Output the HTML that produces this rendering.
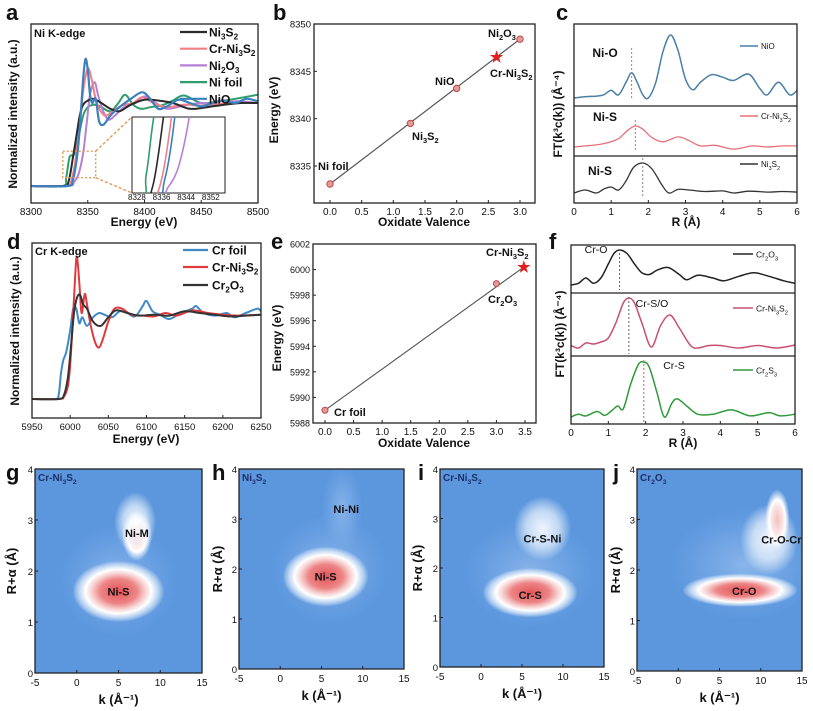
<!DOCTYPE html>
<html><head><meta charset="utf-8"><style>
html,body{margin:0;padding:0;background:#fff;}
svg{display:block;font-family:"Liberation Sans",Arial,sans-serif;}
</style></head><body>
<svg id="fig" width="813" height="711" viewBox="0 0 813 711" xmlns="http://www.w3.org/2000/svg">
<defs id="defs"></defs>
</svg>
<script>
// ===== Panel a data =====
const aE_ni3s2=[8300,8328,8333,8337,8340,8343,8346,8350,8355,8362,8370,8378,8388,8400,8412,8425,8440,8455,8470,8485,8500];
const aI_ni3s2=[0,0,0.05,0.35,0.6,0.85,0.98,1.03,1.05,1.0,0.93,0.9,0.98,1.04,1.03,1.0,0.93,0.95,0.98,1.0,1.0];
const aE_crni=[8300,8330,8335,8339,8343,8346,8349,8351,8354,8358,8365,8372,8380,8390,8398,8408,8420,8435,8450,8465,8480,8500];
const aI_crni=[0,0,0.04,0.3,0.75,1.15,1.38,1.41,1.25,1.0,0.85,0.9,0.97,1.0,1.07,1.0,0.95,0.98,0.97,0.99,1.0,1.0];
const aE_ni2o3=[8300,8333,8338,8342,8346,8349,8352,8356,8359,8363,8368,8374,8382,8392,8400,8410,8420,8435,8450,8465,8480,8500];
const aI_ni2o3=[0,0,0.05,0.15,0.4,0.75,1.1,1.25,1.1,0.92,0.8,0.85,0.95,1.0,1.08,1.0,0.93,0.97,1.0,0.98,1.02,1.0];
const aE_nifoil=[8300,8328,8331,8334,8338,8342,8346,8350,8356,8362,8370,8377,8383,8390,8397,8405,8415,8425,8435,8450,8465,8480,8500];
const aI_nifoil=[0,0,0.1,0.35,0.38,0.6,0.85,0.95,0.98,0.95,0.9,1.0,1.1,0.98,0.93,0.95,0.97,1.03,1.09,1.0,1.02,1.05,1.1];
const aE_nio=[8300,8332,8337,8341,8344,8346,8348,8350,8352,8354,8357,8360,8364,8370,8378,8388,8398,8405,8412,8420,8430,8440,8450,8460,8470,8480,8490,8500];
const aI_nio=[0,0,0.08,0.4,0.9,1.3,1.53,1.4,1.1,1.0,1.05,0.78,0.74,0.85,0.95,1.05,1.13,1.05,0.93,0.96,1.04,1.0,0.96,1.0,1.03,1.0,1.05,1.02];
const aTicks=[8300,8350,8400,8450,8500];
const aInsetTicks=[8328,8336,8344,8352];
// ===== Panel b data =====
const bVal=[0,1.27,2.0,3.0];
const bEn=[8333.1,8339.5,8343.2,8348.4];
const bNames=["Ni foil","Ni_3S_2","NiO","Ni_2O_3"];
const bStarVal=[2.63];
const bStarEn=[8346.5];
const bXTicks=[0,0.5,1,1.5,2,2.5,3];
const bYTicks=[8335,8340,8345,8350];
// ===== Panel c data =====
const cR_nio=[0,0.3,0.6,0.8,1.0,1.2,1.4,1.55,1.7,1.85,2.0,2.2,2.4,2.6,2.8,3.0,3.2,3.4,3.7,4.0,4.3,4.7,5.0,5.2,5.5,5.8,6.0];
const cM_nio=[0,0.02,0.03,0.05,0.12,0.05,0.25,0.4,0.25,0.05,0,0.25,0.75,1.0,0.75,0.3,0.13,0.25,0.37,0.33,0.28,0.38,0.15,0.05,0.25,0.05,0.12];
const cR_crni=[0,0.3,0.6,0.9,1.2,1.45,1.65,1.85,2.1,2.4,2.8,3.1,3.4,3.8,4.3,4.8,5.2,5.6,6.0];
const cM_crni=[0,0.05,0.1,0.2,0.4,0.8,1.0,0.85,0.45,0.25,0.48,0.3,0.05,0.08,-0.1,0.05,0.0,0.05,0.05];
const cR_ni3s2=[0,0.3,0.6,0.8,1.0,1.2,1.4,1.6,1.85,2.1,2.35,2.55,2.8,3.1,3.5,4.0,4.3,4.7,5.2,5.6,6.0];
const cM_ni3s2=[0,0.1,0,0.13,0.2,0.1,0.4,0.85,1.0,0.8,0.3,0,0.12,0.1,0.05,0.07,0.0,0.06,0.03,0.05,0.03];
const rTicks=[0,1,2,3,4,5,6];
// ===== Panel d data =====
const dE_crfoil=[5950,5980,5985,5988,5991,5995,6000,6004,6008,6012,6016,6022,6030,6038,6045,6055,6065,6075,6085,6095,6100,6108,6118,6130,6145,6160,6165,6175,6190,6205,6215,6230,6245,6250];
const dI_crfoil=[0,0,0.05,0.3,0.45,0.55,0.8,1.05,1.05,0.88,0.95,0.85,0.95,1.0,0.98,0.95,1.02,1.0,0.96,1.08,1.14,1.02,0.98,0.93,1.0,1.05,1.08,1.0,0.97,1.0,0.95,1.0,1.05,1.02];
const dE_crni=[5950,5985,5992,5997,6000,6004,6007,6009,6012,6015,6019,6022,6027,6033,6038,6043,6050,6058,6068,6080,6095,6110,6125,6140,6160,6180,6200,6220,6250];
const dI_crni=[0,0,0.03,0.15,0.4,1.0,1.5,1.65,1.35,1.0,1.22,1.1,0.85,0.65,0.6,0.7,0.9,1.05,1.05,0.98,0.97,0.96,1.0,0.97,1.03,1.0,0.98,0.97,0.98];
const dE_cr2o3=[5950,5985,5992,5997,6001,6005,6009,6013,6017,6022,6030,6040,6050,6060,6075,6090,6110,6130,6150,6170,6190,6210,6230,6250];
const dI_cr2o3=[0,0,0.05,0.25,0.6,1.0,1.18,1.21,1.1,1.05,0.9,0.85,0.95,1.03,1.0,0.97,0.98,0.97,1.02,1.0,0.98,0.96,0.97,0.98];
const dTicks=[5950,6000,6050,6100,6150,6200,6250];
// ===== Panel e data =====
const eVal=[0,3.0];
const eEn=[5989.0,5998.9];
const eNames=["Cr foil","Cr_2O_3"];
const eStarVal=[3.48];
const eStarEn=[6000.2];
const eXTicks=[0,0.5,1,1.5,2,2.5,3,3.5];
const eYTicks=[5988,5990,5992,5994,5996,5998,6000,6002];
// ===== Panel f data =====
const fR_cr2o3=[0,0.2,0.4,0.6,0.8,1.0,1.15,1.3,1.5,1.7,1.9,2.1,2.3,2.6,2.9,3.1,3.4,3.8,4.1,4.5,4.9,5.3,5.7,6.0];
const fM_cr2o3=[0,0.05,0.2,0.05,0.2,0.6,0.9,1.0,0.9,0.6,0.35,0.3,0.42,0.5,0.3,0.15,0.28,0.2,0.12,0.25,0.35,0.25,0.12,0.05];
const fR_crni=[0,0.2,0.4,0.6,0.8,1.0,1.2,1.4,1.55,1.7,1.9,2.15,2.4,2.65,2.9,3.2,3.4,3.7,4.0,4.5,5.0,5.5,6.0];
const fM_crni=[0.05,0,0.1,0.08,0.12,0.2,0.5,0.9,1.0,0.9,0.5,0.02,0.45,0.66,0.4,0.05,0.0,0.05,0.05,0.0,0.05,0.0,0.06];
const fR_cr2s3=[0,0.2,0.4,0.7,0.9,1.1,1.25,1.4,1.6,1.8,1.95,2.1,2.3,2.5,2.7,2.85,3.1,3.4,3.8,4.3,4.8,5.3,5.6,6.0];
const fM_cr2s3=[0,0.05,0.02,0.1,0.03,0.12,0.2,0.15,0.6,0.95,1.0,0.9,0.45,0.0,0.25,0.33,0.2,0.05,0.05,0.13,0.02,0.08,0.02,0.05];
// ===== Wavelet panels data (peak k, R, amplitude, k-width, R-width) =====
const gK=[5,5,7.2,7];      const gR=[1.8,1.6,2.7,2.95]; const gA=[0.2,1.0,0.55,0.35]; const gSk=[7,5.5,1.8,2.5];  const gSr=[1.1,0.6,0.5,0.6];
const hK=[6,5.5,7.5];      const hR=[2.0,1.85,3.2];     const hA=[0.2,1.0,0.2];       const hSk=[7,5.2,2.5];       const hSr=[1.1,0.6,0.9];
const iK=[6,6,7.5];        const iR=[1.9,1.5,2.8];      const iA=[0.2,1.0,0.35];      const iSk=[8,5.8,3.5];     const iSr=[1.1,0.5,0.65];
const jK=[8,7.5,11,12];    const jR=[2.1,1.6,2.6,3.0];  const jA=[0.2,1.0,0.35,0.55]; const jSk=[9,7,3.5,1.5]; const jSr=[1.1,0.33,0.7,0.6];
const kTicks=[-5,0,5,10,15];
const raTicks=[0,1,2,3,4];

const NS="http://www.w3.org/2000/svg";
const svg=document.getElementById('fig');
const defs=document.getElementById('defs');
function lin(d0,d1,r0,r1){return v=>r0+(v-d0)*(r1-r0)/(d1-d0);}
function mk(tag,attrs,name,parent){
  const e=document.createElementNS(NS,tag);
  for(const k in attrs)e.setAttribute(k,attrs[k]);
  
  
  (parent||svg).appendChild(e);return e;
}
function txt(x,y,str,name,o){
  o=o||{};
  str=String(str);
  const t=mk('text',{x:x,y:y,'font-size':o.size||11,'font-weight':o.weight||'bold','text-anchor':o.anchor||'start',fill:o.fill||'#111'},name);
  if(o.rot!==undefined)t.setAttribute('transform','rotate('+o.rot+' '+x+' '+y+')');
  const parts=str.split(/(_\d)/);let shift=0;
  for(const p of parts){
    if(!p)continue;
    const ts=document.createElementNS(NS,'tspan');
    if(p[0]==='_'){ts.textContent=p[1];ts.setAttribute('font-size','0.68em');ts.setAttribute('dy',3-shift);shift=3;}
    else{ts.textContent=p;ts.setAttribute('dy',0-shift);shift=0;}
    t.appendChild(ts);
  }
  return t;
}
function smooth(pts){
  let d='M'+pts[0][0].toFixed(1)+','+pts[0][1].toFixed(1);
  for(let i=0;i<pts.length-1;i++){
    const p0=pts[i-1]||pts[i],p1=pts[i],p2=pts[i+1],p3=pts[i+2]||p2;
    const c1=[p1[0]+(p2[0]-p0[0])/6,p1[1]+(p2[1]-p0[1])/6];
    const c2=[p2[0]-(p3[0]-p1[0])/6,p2[1]-(p3[1]-p1[1])/6];
    d+='C'+c1[0].toFixed(1)+','+c1[1].toFixed(1)+' '+c2[0].toFixed(1)+','+c2[1].toFixed(1)+' '+p2[0].toFixed(1)+','+p2[1].toFixed(1);
  }
  return d;
}
function curve(xs,ys,fx,fy,color,name,w,parent){
  const pts=xs.map((v,i)=>[fx(v),fy(ys[i])]);
  return mk('path',{d:smooth(pts),fill:'none',stroke:color,'stroke-width':w||2,'stroke-linejoin':'round'},name,parent);
}
function frame(x0,y0,x1,y1,name){mk('rect',{x:x0,y:y0,width:x1-x0,height:y1-y0,fill:'none',stroke:'#222','stroke-width':1.3},name);}
function xticks(ticks,fx,y,fmt,name,size){
  ticks.forEach(t=>{mk('line',{x1:fx(t),x2:fx(t),y1:y,y2:y-3,stroke:'#222','stroke-width':1},name+'-tick');
    txt(fx(t),y+12,fmt(t),name+'-label',{size:size||10,anchor:'middle',weight:'normal'});});
}
function yticks(ticks,fy,x,fmt,name,size){
  ticks.forEach(t=>{mk('line',{x1:x,x2:x+3,y1:fy(t),y2:fy(t),stroke:'#222','stroke-width':1},name+'-tick');
    txt(x-3,fy(t)+3.5,fmt(t),name+'-label',{size:size||9.5,anchor:'end',weight:'normal'});});
}
function letter(x,y,s){txt(x,y,s,'panel-letter-'+s,{size:22});}

// ================= Panel a =================
letter(6,20,'a');
{
const ax=lin(8300,8500,31,258), ay=lin(0,1,186,103);
const cp=mk('clipPath',{id:'clipA'},'clip-a',defs);mk('rect',{x:31,y:24,width:227,height:179},'clip-a-rect',cp);
const g=mk('g',{'clip-path':'url(#clipA)'},'panel-a-series');
curve(aE_nifoil,aI_nifoil,ax,ay,'#2f9d6c','ni-foil-line',2,g);
curve(aE_ni2o3,aI_ni2o3,ax,ay,'#b67fd8','ni2o3-line',2,g);
curve(aE_crni,aI_crni,ax,ay,'#f07f86','cr-ni3s2-line',2,g);
curve(aE_ni3s2,aI_ni3s2,ax,ay,'#2a2a2a','ni3s2-line',2,g);
curve(aE_nio,aI_nio,ax,ay,'#3c7fbf','nio-line',2.2,g);
frame(31,24,258,203,'panel-a-frame');
xticks(aTicks,ax,203,t=>t,'a-x');
txt(144,226,'Energy (eV)','a-x-axis-title',{size:12,anchor:'middle'});
txt(17,114,'Normalized intensity (a.u.)','a-y-axis-title',{size:12,anchor:'middle',rot:-90});
txt(34,37,'Ni K-edge','a-edge-label',{size:11});
const leg=[['Ni_3S_2','#2a2a2a'],['Cr-Ni_3S_2','#f07f86'],['Ni_2O_3','#b67fd8'],['Ni foil','#2f9d6c'],['NiO','#3c7fbf']];
leg.forEach((l,i)=>{const y=32+i*16.7;mk('line',{x1:180,x2:207,y1:y,y2:y,stroke:l[1],'stroke-width':2.2},'legend-a-line');txt(209,y+4.5,l[0],'legend-a-entry',{size:12});});
const zx0=ax(8328),zx1=ax(8357),zy0=ay(0.42),zy1=ay(0.1);
mk('rect',{x:zx0,y:zy0,width:zx1-zx0,height:zy1-zy0,fill:'none',stroke:'#e09a55','stroke-width':1.4,'stroke-dasharray':'2,2'},'zoom-region');
mk('line',{x1:zx1,y1:zy0,x2:132,y2:117,stroke:'#e09a55','stroke-width':1.4,'stroke-dasharray':'3,2'},'zoom-connector');
mk('line',{x1:zx1,y1:zy1,x2:132,y2:193,stroke:'#e09a55','stroke-width':1.4,'stroke-dasharray':'3,2'},'zoom-connector');
mk('rect',{x:132,y:117,width:93,height:76,fill:'#fff',stroke:'#222','stroke-width':1},'inset-frame');
const ix=lin(8326.4,8356.6,132,225), iy=lin(0.03,0.32,193,117);
const cpi=mk('clipPath',{id:'clipI'},'clip-inset',defs);mk('rect',{x:132,y:117,width:93,height:76},'clip-inset-rect',cpi);
const gi=mk('g',{'clip-path':'url(#clipI)'},'inset-series');
curve(aE_nifoil,aI_nifoil,ix,iy,'#2f9d6c','inset-ni-foil',1.6,gi);
curve(aE_ni2o3,aI_ni2o3,ix,iy,'#b67fd8','inset-ni2o3',1.6,gi);
curve(aE_crni,aI_crni,ix,iy,'#f07f86','inset-cr-ni3s2',1.6,gi);
curve(aE_ni3s2,aI_ni3s2,ix,iy,'#2a2a2a','inset-ni3s2',1.6,gi);
curve(aE_nio,aI_nio,ix,iy,'#3c7fbf','inset-nio',1.6,gi);
aInsetTicks.forEach(t=>txt(ix(t),200,String(t),'inset-x-label',{size:8,anchor:'middle',weight:'normal'}));
}
// ================= Panel b =================
letter(273,20,'b');
{
const bx=lin(0,3,330,520), by=lin(8335,8350,166,24);
frame(314,24,535,203,'panel-b-frame');
xticks(bXTicks,bx,203,t=>t.toFixed(1),'b-x');
yticks(bYTicks,by,314,t=>t,'b-y');
txt(424,226,'Oxidate Valence','b-x-axis-title',{size:12,anchor:'middle'});
txt(278,110,'Energy (eV)','b-y-axis-title',{size:12,anchor:'middle',rot:-90});
mk('line',{x1:bx(bVal[0]),y1:by(bEn[0]),x2:bx(bVal[3]),y2:by(bEn[3]),stroke:'#555','stroke-width':1.2},'b-fit-line');
bVal.forEach((v,i)=>mk('circle',{cx:bx(v),cy:by(bEn[i]),r:3.2,fill:'#e59a9a',stroke:'#c04848','stroke-width':1},'b-point'));
bStarVal.forEach((v,i)=>txt(bx(v),by(bStarEn[i])+5,'★','b-star-cr-ni3s2',{size:15,anchor:'middle',fill:'#e02020'}));
txt(318,170,'Ni foil','b-label-ni-foil',{size:11});
txt(412,140,'Ni_3S_2','b-label-ni3s2',{size:11});
txt(435,85,'NiO','b-label-nio',{size:11});
txt(488,37,'Ni_2O_3','b-label-ni2o3',{size:11});
txt(490,77,'Cr-Ni_3S_2','b-label-cr-ni3s2',{size:11});
}
// ================= Panel c =================
letter(556,20,'c');
{
const cx=lin(0,6,574,797);
curve(cR_nio,cM_nio,cx,v=>98-v*63,'#4a7fa6','c-nio-line',1.5);
curve(cR_crni,cM_crni,cx,v=>147-v*21,'#e8707a','c-cr-ni3s2-line',1.3);
curve(cR_ni3s2,cM_ni3s2,cx,v=>193-v*30,'#333','c-ni3s2-line',1.3);
mk('line',{x1:cx(1.55),x2:cx(1.55),y1:48,y2:100,stroke:'#e06868','stroke-dasharray':'2,2'},'c-ni-o-marker');
mk('line',{x1:cx(1.65),x2:cx(1.65),y1:120,y2:150,stroke:'#e06868','stroke-dasharray':'2,2'},'c-ni-s-marker');
mk('line',{x1:cx(1.85),x2:cx(1.85),y1:158,y2:197,stroke:'#888','stroke-dasharray':'2,2'},'c-ni-s-marker');
frame(574,24,797,203,'panel-c-frame');
mk('line',{x1:574,x2:797,y1:106,y2:106,stroke:'#222','stroke-width':1.3},'c-divider');
mk('line',{x1:574,x2:797,y1:156,y2:156,stroke:'#222','stroke-width':1.3},'c-divider');
xticks(rTicks,cx,203,t=>t,'c-x');
txt(686,226,'R (Å)','c-x-axis-title',{size:12,anchor:'middle'});
txt(562,114,'FT(k³c(k)) (Å⁻⁴)','c-y-axis-title',{size:12,anchor:'middle',rot:-90});
txt(605,57,'Ni-O','c-label-ni-o',{size:12,anchor:'middle'});
txt(605,121,'Ni-S','c-label-ni-s',{size:12,anchor:'middle'});
txt(600,175,'Ni-S','c-label-ni-s',{size:12,anchor:'middle'});
[['NiO','#4a7fa6',46],['Cr-Ni_3S_2','#e8707a',116],['Ni_3S_2','#333',164]].forEach(l=>{
  mk('line',{x1:740,x2:758,y1:l[2],y2:l[2],stroke:l[1],'stroke-width':1.5},'legend-c-line');
  txt(761,l[2]+3,l[0],'legend-c-entry',{size:8,weight:'normal'});});
}
// ================= Panel d =================
letter(7,249,'d');
{
const dx=lin(5950,6250,32,261), dy=lin(0,1,399,313);
curve(dE_crfoil,dI_crfoil,dx,dy,'#3f8ac6','d-cr-foil-line',2);
curve(dE_crni,dI_crni,dx,dy,'#e2393f','d-cr-ni3s2-line',2);
curve(dE_cr2o3,dI_cr2o3,dx,dy,'#333','d-cr2o3-line',2);
frame(32,243,261,418,'panel-d-frame');
xticks(dTicks,dx,418,t=>t,'d-x',9.5);
txt(146,443,'Energy (eV)','d-x-axis-title',{size:12,anchor:'middle'});
txt(19,331,'Normalized intensity (a.u.)','d-y-axis-title',{size:12,anchor:'middle',rot:-90});
txt(35,255,'Cr K-edge','d-edge-label',{size:11});
[['Cr foil','#3f8ac6',250],['Cr-Ni_3S_2','#e2393f',267],['Cr_2O_3','#333',285]].forEach(l=>{
  mk('line',{x1:183,x2:208,y1:l[2],y2:l[2],stroke:l[1],'stroke-width':2.2},'legend-d-line');
  txt(212,l[2]+4.5,l[0],'legend-d-entry',{size:12});});
}
// ================= Panel e =================
letter(271,249,'e');
{
const ex=lin(0,3.5,325,525), ey=lin(5988,6002,423,244);
frame(313,244,536,423,'panel-e-frame');
xticks(eXTicks,ex,423,t=>t.toFixed(1),'e-x');
yticks(eYTicks,ey,313,t=>t,'e-y',9);
txt(424,447,'Oxidate Valence','e-x-axis-title',{size:12,anchor:'middle'});
txt(281,338,'Energy (eV)','e-y-axis-title',{size:12,anchor:'middle',rot:-90});
mk('line',{x1:ex(eVal[0]),y1:ey(eEn[0]),x2:ex(eStarVal[0]),y2:ey(eStarEn[0]),stroke:'#555','stroke-width':1.1},'e-fit-line');
eVal.forEach((v,i)=>mk('circle',{cx:ex(v),cy:ey(eEn[i]),r:3,fill:'#e59a9a',stroke:'#c04848','stroke-width':1},'e-point'));
eStarVal.forEach((v,i)=>txt(ex(v),ey(eStarEn[i])+5,'★','e-star-cr-ni3s2',{size:15,anchor:'middle',fill:'#e02020'}));
txt(334,416,'Cr foil','e-label-cr-foil',{size:11});
txt(488,303,'Cr_2O_3','e-label-cr2o3',{size:11});
txt(486,256,'Cr-Ni_3S_2','e-label-cr-ni3s2',{size:11});
}
// ================= Panel f =================
letter(549,249,'f');
{
const fx=lin(0,6,571,795);
curve(fR_cr2o3,fM_cr2o3,fx,v=>285-v*35,'#222','f-cr2o3-line',1.5);
curve(fR_crni,fM_crni,fx,v=>348-v*50,'#c95070','f-cr-ni3s2-line',1.5);
curve(fR_cr2s3,fM_cr2s3,fx,v=>417-v*55,'#2e9a3a','f-cr2s3-line',1.5);
mk('line',{x1:fx(1.3),x2:fx(1.3),y1:249,y2:290,stroke:'#666','stroke-dasharray':'2,2'},'f-cr-o-marker');
mk('line',{x1:fx(1.55),x2:fx(1.55),y1:297,y2:354,stroke:'#666','stroke-dasharray':'2,2'},'f-cr-s-o-marker');
mk('line',{x1:fx(1.95),x2:fx(1.95),y1:360,y2:422,stroke:'#d06070','stroke-dasharray':'2,2'},'f-cr-s-marker');
frame(571,245,795,424,'panel-f-frame');
mk('line',{x1:571,x2:795,y1:293,y2:293,stroke:'#222','stroke-width':1.3},'f-divider');
mk('line',{x1:571,x2:795,y1:356,y2:356,stroke:'#222','stroke-width':1.3},'f-divider');
xticks(rTicks,fx,424,t=>t,'f-x');
txt(683,447,'R (Å)','f-x-axis-title',{size:12,anchor:'middle'});
txt(564,334,'FT(k³c(k)) (Å⁻⁴)','f-y-axis-title',{size:12,anchor:'middle',rot:-90});
txt(596,253,'Cr-O','f-label-cr-o',{size:10.5,anchor:'middle',weight:'normal'});
txt(652,307,'Cr-S/O','f-label-cr-s-o',{size:10.5,anchor:'middle',weight:'normal'});
txt(674,369,'Cr-S','f-label-cr-s',{size:10.5,anchor:'middle',weight:'normal'});
[['Cr_2O_3','#222',254],['Cr-Ni_3S_2','#c95070',308],['Cr_2S_3','#2e9a3a',370]].forEach(l=>{
  mk('line',{x1:733,x2:753,y1:l[2],y2:l[2],stroke:l[1],'stroke-width':1.5},'legend-f-line');
  txt(756,l[2]+3.5,l[0],'legend-f-entry',{size:8.5,weight:'normal'});});
}
// ================= Wavelet panels =================
function blobStops(a){
  if(a>=0.9)return [[0,'#e2555a',1],[0.4,'#ec8485',1],[0.58,'#f7cfcf',1],[0.72,'#ffffff',1],[0.85,'#e8f1fb',0.7],[1,'#ffffff',0]];
  if(a>=0.5)return [[0,'#f4c0c0',1],[0.45,'#fbe4e4',1],[0.65,'#ffffff',1],[1,'#ffffff',0]];
  if(a>=0.3)return [[0,'#ffffff',0.9],[0.55,'#eef5fd',0.7],[1,'#ffffff',0]];
  return [[0,'#a8c9f2',0.6],[0.6,'#88b4ea',0.35],[1,'#7aaae6',0]];
}
let gid=0;
function wavelet(id,x0,x1,y0,y1,K,R,A,SK,SR,title,labels,lx){
  const kx=lin(-5,15,x0,x1), ry=lin(0,4,y1,y0);
  const cp=mk('clipPath',{id:'clip'+id},'clip-'+id,defs);mk('rect',{x:x0,y:y0,width:x1-x0,height:y1-y0},'clip-'+id+'-rect',cp);
  const g=mk('g',{'clip-path':'url(#clip'+id+')'},'wavelet-'+id+'-map');
  mk('rect',{x:x0,y:y0,width:x1-x0,height:y1-y0,fill:'#5c97de'},'wavelet-'+id+'-background',g);
  K.forEach((k,i)=>{
    const gradId='wg'+(gid++);
    const rg=mk('radialGradient',{id:gradId},'wavelet-gradient',defs);
    blobStops(A[i]).forEach(s=>mk('stop',{offset:s[0],'stop-color':s[1],'stop-opacity':s[2]},'gradient-stop',rg));
    mk('ellipse',{cx:kx(k),cy:ry(R[i]),rx:Math.abs(kx(SK[i])-kx(0)),ry:Math.abs(ry(0)-ry(SR[i])),fill:'url(#'+gradId+')'},'wavelet-'+id+'-peak',g);
  });
  frame(x0,y0,x1,y1,'wavelet-'+id+'-frame');
  kTicks.forEach(t=>{mk('line',{x1:kx(t),x2:kx(t),y1:y1,y2:y1-3,stroke:'#222'},'wavelet-x-tick');
    txt(kx(t),y1+13,String(t),'wavelet-'+id+'-x-label',{size:10,anchor:'middle',weight:'normal'});});
  raTicks.forEach(t=>{mk('line',{x1:x0,x2:x0+3,y1:ry(t),y2:ry(t),stroke:'#222'},'wavelet-y-tick');
    txt(x0-2,ry(t)+4,String(t),'wavelet-'+id+'-y-label',{size:9.5,anchor:'end',weight:'normal'});});
  txt((x0+x1)/2,y1+31,'k (Å⁻¹)','wavelet-'+id+'-x-axis-title',{size:13,anchor:'middle'});
  txt(lx,(y0+y1)/2,'R+α (Å)','wavelet-'+id+'-y-axis-title',{size:13,anchor:'middle',rot:-90});
  txt(x0+3,y0+12,title,'wavelet-'+id+'-title',{size:10,fill:'#1b2f6a'});
  labels.forEach(l=>txt(kx(l[1]),ry(l[2])+4,l[0],'wavelet-'+id+'-peak-label',{size:11,anchor:'middle',weight:'bold',fill:'#111'}));
}
letter(6,480,'g');letter(212,480,'h');letter(418,480,'i');letter(613,480,'j');
wavelet('g',35,202,469,673,gK,gR,gA,gSk,gSr,'Cr-Ni_3S_2',[['Ni-M',7.2,2.75],['Ni-S',5,1.6]],16);
wavelet('h',239,404,469,669,hK,hR,hA,hSk,hSr,'Ni_3S_2',[['Ni-Ni',8,3.2],['Ni-S',5.5,1.85]],222);
wavelet('i',440,604,469,667,iK,iR,iA,iSk,iSr,'Cr-Ni_3S_2',[['Cr-S-Ni',7.5,2.6],['Cr-S',6,1.45]],422);
wavelet('j',637,802,469,671,jK,jR,jA,jSk,jSr,'Cr_2O_3',[['Cr-O-Cr',12.5,2.6],['Cr-O',8,1.58]],620);
</script>
</body></html>
